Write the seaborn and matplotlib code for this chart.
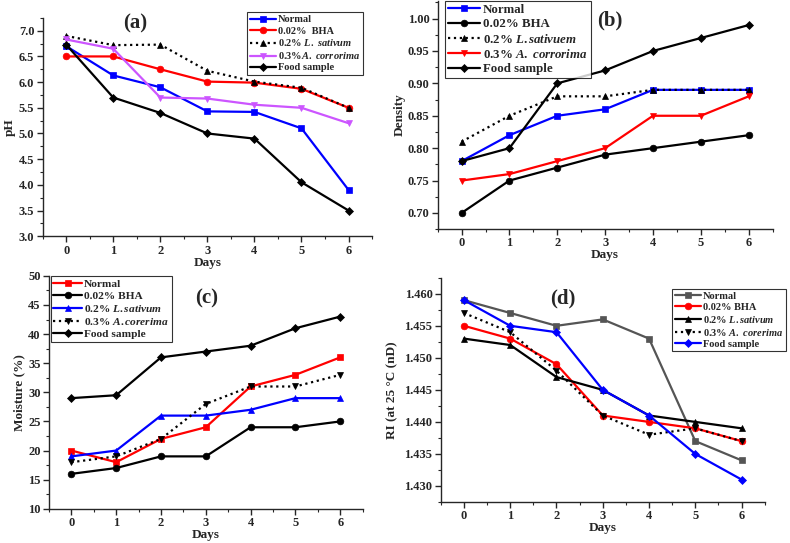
import numpy as np
import pandas as pd
import matplotlib
matplotlib.use("Agg")
import matplotlib.pyplot as plt
import seaborn as sns
from matplotlib.ticker import MultipleLocator, FormatStrFormatter

sns.set_style("ticks")
plt.rcParams['font.family'] = ['Liberation Serif', 'DejaVu Serif']
plt.rcParams['font.weight'] = 'bold'
plt.rcParams['axes.labelweight'] = 'bold'
plt.rcParams['mathtext.fontset'] = 'custom'
plt.rcParams['mathtext.it'] = 'Liberation Serif:italic:bold'
plt.rcParams['mathtext.rm'] = 'Liberation Serif:bold'

days = [0, 1, 2, 3, 4, 5, 6]

# (a) pH
ph_normal = [6.70, 6.13, 5.90, 5.43, 5.42, 5.10, 3.90]
ph_bha = [6.50, 6.50, 6.25, 6.01, 5.99, 5.87, 5.50]
ph_lsat = [6.90, 6.72, 6.73, 6.22, 6.01, 5.89, 5.50]
ph_acor = [6.83, 6.65, 5.70, 5.68, 5.56, 5.50, 5.20]
ph_food = [6.73, 5.70, 5.40, 5.00, 4.90, 4.05, 3.50]

# (b) density
den_normal = [0.78, 0.82, 0.85, 0.86, 0.89, 0.89, 0.89]
den_bha = [0.70, 0.75, 0.77, 0.79, 0.80, 0.81, 0.82]
den_lsat = [0.81, 0.85, 0.88, 0.88, 0.89, 0.89, 0.89]
den_acor = [0.75, 0.76, 0.78, 0.80, 0.85, 0.85, 0.88]
den_food = [0.78, 0.80, 0.90, 0.92, 0.95, 0.97, 0.99]

# (c) moisture
moi_normal = [20, 18, 22, 24, 31, 33, 36]
moi_bha = [16, 17, 19, 19, 24, 24, 25]
moi_lsat = [19, 20, 26, 26, 27, 29, 29]
moi_acor = [18, 19, 22, 28, 31, 31, 33]
moi_food = [29, 29.5, 36, 37, 38, 41, 43]

# (d) refractive index
ri_normal = [1.459, 1.457, 1.455, 1.456, 1.453, 1.437, 1.434]
ri_bha = [1.455, 1.453, 1.449, 1.441, 1.440, 1.439, 1.437]
ri_lsat = [1.453, 1.452, 1.447, 1.445, 1.441, 1.440, 1.439]
ri_acor = [1.457, 1.454, 1.448, 1.441, 1.438, 1.439, 1.437]
ri_food = [1.459, 1.455, 1.454, 1.445, 1.441, 1.435, 1.431]

BLUE, RED, BLACK, VIOLET, GREY = '#0000ff', '#ff0000', '#000000', '#cc55ff', '#555555'

panels = [
    dict(pos=[0.054, 0.565, 0.417, 0.402], ylim=(3.0, 7.25), major=0.5, fmt='%.1f',
         ylabel='pH', ylabel_x=0.012, tag='(a)', tag_xy=(0.171, 0.957),
         leg_xy=(0.313, 0.977), leg_fs=7.5,
         series=[
             (ph_normal, 'Normal', BLUE, 's', '-'),
             (ph_bha, '0.02%  BHA', RED, 'o', '-'),
             (ph_lsat, r'0.2% $\it{L.\ sativum}$', BLACK, '^', ':'),
             (ph_acor, r'0.3%$\it{A.\ corrorima}$', VIOLET, 'v', '-'),
             (ph_food, 'Food sample', BLACK, 'D', '-'),
         ]),
    dict(pos=[0.554, 0.578, 0.424, 0.42], ylim=(0.675, 1.027), major=0.05, fmt='%.2f',
         ylabel='Density', ylabel_x=0.506, tag='(b)', tag_xy=(0.772, 0.962),
         leg_xy=(0.563, 0.999), leg_fs=9.3,
         series=[
             (den_normal, 'Normal', BLUE, 's', '-'),
             (den_bha, '0.02% BHA', BLACK, 'o', '-'),
             (den_lsat, r'0.2% $\it{L.sativuem}$', BLACK, '^', ':'),
             (den_acor, r'0.3% $\it{A.\ corrorima}$', RED, 'v', '-'),
             (den_food, 'Food sample', BLACK, 'D', '-'),
         ]),
    dict(pos=[0.062, 0.063, 0.397, 0.429], ylim=(10, 50), major=5, fmt='%d',
         ylabel='Moisture (%)', ylabel_x=0.024, tag='(c)', tag_xy=(0.262, 0.451),
         leg_xy=(0.064, 0.491), leg_fs=8.2,
         series=[
             (moi_normal, 'Normal', RED, 's', '-'),
             (moi_bha, '0.02% BHA', BLACK, 'o', '-'),
             (moi_lsat, r'0.2% $\it{L.sativum}$', BLUE, '^', '-'),
             (moi_acor, r'0.3% $\it{A.corerima}$', BLACK, 'v', ':'),
             (moi_food, 'Food sample', BLACK, 'D', '-'),
         ]),
    dict(pos=[0.558, 0.0755, 0.41, 0.413], ylim=(1.4275, 1.4625), major=0.005, fmt='%.3f',
         ylabel='RI (at 25 °C (nD)', ylabel_x=0.497, tag='(d)', tag_xy=(0.713, 0.451),
         leg_xy=(0.851, 0.468), leg_fs=7.5,
         series=[
             (ri_normal, 'Normal', GREY, 's', '-'),
             (ri_bha, '0.02% BHA', RED, 'o', '-'),
             (ri_lsat, r'0.2% $\it{L.sativum}$', BLACK, '^', '-'),
             (ri_acor, r'0.3% $\it{A.\ corerima}$', BLACK, 'v', ':'),
             (ri_food, 'Food sample', BLUE, 'D', '-'),
         ]),
]

fig = plt.figure(figsize=(7.9, 5.43), dpi=100)

for p in panels:
    ax = fig.add_axes(p['pos'])
    for vals, label, color, marker, ls in p['series']:
        sns.lineplot(x=days, y=vals, ax=ax, color=color, marker=marker, linestyle=ls,
                     linewidth=1.6, markersize=4.8 if marker != 'D' else 4.0,
                     markeredgecolor=color, markeredgewidth=0.5, label=label)
    ax.set_xlim(-0.5, 6.5)
    ax.set_ylim(*p['ylim'])
    ax.xaxis.set_major_locator(MultipleLocator(1))
    ax.xaxis.set_minor_locator(MultipleLocator(0.5))
    ax.yaxis.set_major_locator(MultipleLocator(p['major']))
    ax.yaxis.set_minor_locator(MultipleLocator(p['major'] / 2))
    ax.yaxis.set_major_formatter(FormatStrFormatter(p['fmt']))
    ax.tick_params(which='major', length=4, width=1, labelsize=9, pad=2)
    ax.tick_params(which='minor', length=2, width=0.8)
    for s in ['top', 'right']:
        ax.spines[s].set_visible(False)
    for s in ['left', 'bottom']:
        ax.spines[s].set_linewidth(1)
    ax.set_xlabel('Days', fontsize=9.5, labelpad=0)
    ax.set_ylabel('')
    x0, y0, w, h = p['pos']
    fig.text(p['ylabel_x'], y0 + h / 2, p['ylabel'], rotation=90, fontsize=9.5,
             fontweight='bold', ha='center', va='center')
    fig.text(p['tag_xy'][0], p['tag_xy'][1], p['tag'], fontsize=15, fontweight='bold',
             ha='center', va='center')
    leg = ax.legend(loc='upper left', bbox_to_anchor=p['leg_xy'], bbox_transform=fig.transFigure,
                    fontsize=p['leg_fs'], frameon=True, fancybox=False, edgecolor='black',
                    handlelength=2.5, handletextpad=0.2, labelspacing=0.18, borderpad=0.25,
                    borderaxespad=0)
    leg.get_frame().set_linewidth(0.8)
    for t in leg.get_texts():
        t.set_fontweight('bold')

fig.savefig('out.png', dpi=100)
